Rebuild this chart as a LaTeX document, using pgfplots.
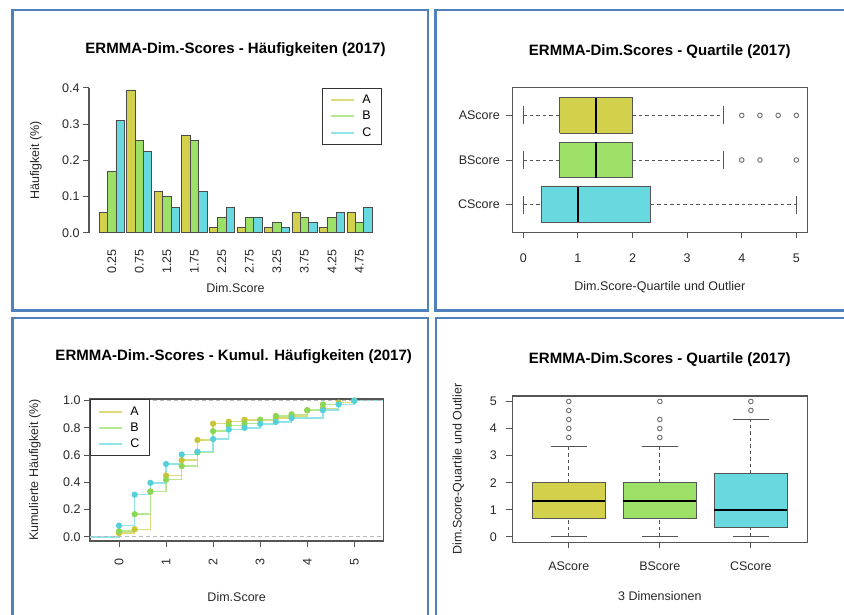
\documentclass[border=0pt]{standalone}
\usepackage{pgfplots}
\pgfplotsset{compat=1.18}
\usepackage{fontspec}
\setmainfont{Liberation Sans}
\definecolor{cA}{RGB}{211,208,76}
\definecolor{cB}{RGB}{156,224,104}
\definecolor{cC}{RGB}{104,218,223}
\definecolor{lA}{RGB}{222,218,120}
\definecolor{lB}{RGB}{180,232,145}
\definecolor{lC}{RGB}{145,228,232}
\definecolor{mA}{RGB}{200,196,55}
\definecolor{mB}{RGB}{140,214,85}
\definecolor{mC}{RGB}{85,208,218}
\definecolor{panelblue}{RGB}{79,129,189}
\definecolor{axgray}{RGB}{85,85,85}
\definecolor{txt}{RGB}{40,40,40}
\newcommand{\lf}{\fontsize{12.5}{14}\selectfont}
\newcommand{\tf}{\bfseries\fontsize{15}{18}\selectfont}
\pgfplotsset{
  common/.style={
    scale only axis,
    /pgf/number format/assume math mode=true,
    tick align=outside,
    major tick length=6pt,
    tick style={axgray, line width=0.9pt},
    axis line style={axgray, line width=1.2pt, -},
    tick label style={font=\lf, text=txt},
    label style={font=\lf, text=txt},
    every axis title shift=0pt,
    title style={font=\tf, text=black, anchor=center},
    clip=false,
    legend image code/.code={\draw[##1] (0pt,0pt) -- (23pt,0pt);},
    legend cell align=left,
  },
  leg/.style={draw=black!80, line width=1pt, fill=white,
    font=\lf, inner xsep=8pt, inner ysep=5pt, row sep=2pt,
    /tikz/every odd column/.append style={column sep=5pt}},
  whisk/.style={axgray, line width=0.9pt, dash pattern=on 3.5pt off 3pt},
  staple/.style={axgray, line width=1.1pt},
  med/.style={black, line width=2.4pt},
  outl/.style={only marks, mark=o, mark size=2.3pt, color=axgray!85, mark options={line width=0.9pt}},
}
\begin{document}
\begin{tikzpicture}
\clip (0pt,0pt) rectangle (844pt,614pt);
\fill[white] (0pt,0pt) rectangle (844pt,614pt);
\draw[panelblue, line width=2.2pt] (12.5pt,604pt) rectangle (428pt,303.5pt);
\draw[panelblue, line width=2.2pt] (435.5pt,604pt) rectangle (850pt,303.5pt);
\draw[panelblue, line width=2.2pt] (12.5pt,296pt) rectangle (428pt,-6pt);
\draw[panelblue, line width=2.2pt] (436pt,296pt) rectangle (850pt,-6pt);

% ---------------- Panel 1: grouped bars ----------------
\begin{axis}[common,
  at={(89pt,381.3pt)}, anchor=south west,
  width=293pt, height=145pt,
  xmin=-1.23, xmax=33.9, ymin=0, ymax=0.4,
  axis lines*=left,
  x axis line style={draw=none},
  xtick={1.5,4.8,8.1,11.4,14.7,18.0,21.3,24.6,27.9,31.2},
  xticklabels={0.25,0.75,1.25,1.75,2.25,2.75,3.25,3.75,4.25,4.75},
  xtick style={draw=none},
  xticklabel style={rotate=90, anchor=east, xshift=-7pt},
  ytick={0,0.1,0.2,0.3,0.4}, ytick pos=left,
  yticklabel style={/pgf/number format/.cd, fixed, fixed zerofill, precision=1},
  title={ERMMA-Dim.-Scores - Häufigkeiten (2017)},
  title style={at={(rel axis cs:0.5,1.26)}},
  xlabel={Dim.Score},
  xlabel style={at={(rel axis cs:0.5,-0.379)}, anchor=center},
  ylabel={Häufigkeit (\%)},
  ylabel style={at={(rel axis cs:-0.181,0.5)}, anchor=center},
  legend style={leg, at={(1,1)}, anchor=north east},
]
\addplot[forget plot, ybar, bar width=1, bar shift=0pt, fill=cA, draw=black!70, line width=0.7pt]
  coordinates {(0.5,0.056) (3.8,0.394) (7.1,0.113) (10.4,0.268) (13.7,0.014) (17.0,0.014) (20.3,0.014) (23.6,0.056) (26.9,0.014) (30.2,0.056)};
\addplot[forget plot, ybar, bar width=1, bar shift=0pt, fill=cB, draw=black!70, line width=0.7pt]
  coordinates {(1.5,0.169) (4.8,0.254) (8.1,0.099) (11.4,0.254) (14.7,0.042) (18.0,0.042) (21.3,0.028) (24.6,0.042) (27.9,0.042) (31.2,0.028)};
\addplot[forget plot, ybar, bar width=1, bar shift=0pt, fill=cC, draw=black!70, line width=0.7pt]
  coordinates {(2.5,0.310) (5.8,0.225) (9.1,0.070) (12.4,0.113) (15.7,0.070) (19.0,0.042) (22.3,0.014) (25.6,0.028) (28.9,0.056) (32.2,0.070)};
\addlegendimage{lA, line width=2pt}\addlegendentry{A}
\addlegendimage{lB, line width=2pt}\addlegendentry{B}
\addlegendimage{lC, line width=2pt}\addlegendentry{C}
\end{axis}

% ---------------- Panel 2: horizontal boxplots ----------------
\begin{axis}[common,
  at={(512.3pt,381.7pt)}, anchor=south west,
  width=295pt, height=144.6pt,
  xmin=-0.2, xmax=5.2, ymin=0.38, ymax=3.62,
  xtick={0,1,2,3,4,5}, ytick={1,2,3},
  yticklabels={CScore,BScore,AScore},
  xtick pos=left, ytick pos=left,
  xticklabel style={yshift=-12pt},
  yticklabel style={xshift=-3pt},
  title={ERMMA-Dim.Scores - Quartile (2017)},
  title style={at={(rel axis cs:0.5,1.249)}},
  xlabel={Dim.Score-Quartile und Outlier},
  xlabel style={at={(rel axis cs:0.5,-0.38)}, anchor=center},
]
% A (position 3)
\addplot[fill=cA, draw=axgray, line width=1.1pt] coordinates {(0.667,2.6) (2,2.6) (2,3.4) (0.667,3.4) (0.667,2.6)};
\addplot[whisk] coordinates {(0,3) (0.667,3)};
\addplot[whisk] coordinates {(2,3) (3.667,3)};
\addplot[staple] coordinates {(0,2.8) (0,3.2)};
\addplot[staple] coordinates {(3.667,2.8) (3.667,3.2)};
\addplot[med] coordinates {(1.333,2.6) (1.333,3.4)};
\addplot[outl] coordinates {(4,3) (4.333,3) (4.667,3) (5,3)};
% B (position 2)
\addplot[fill=cB, draw=axgray, line width=1.1pt] coordinates {(0.667,1.6) (2,1.6) (2,2.4) (0.667,2.4) (0.667,1.6)};
\addplot[whisk] coordinates {(0,2) (0.667,2)};
\addplot[whisk] coordinates {(2,2) (3.667,2)};
\addplot[staple] coordinates {(0,1.8) (0,2.2)};
\addplot[staple] coordinates {(3.667,1.8) (3.667,2.2)};
\addplot[med] coordinates {(1.333,1.6) (1.333,2.4)};
\addplot[outl] coordinates {(4,2) (4.333,2) (5,2)};
% C (position 1)
\addplot[fill=cC, draw=axgray, line width=1.1pt] coordinates {(0.333,0.6) (2.333,0.6) (2.333,1.4) (0.333,1.4) (0.333,0.6)};
\addplot[whisk] coordinates {(0,1) (0.333,1)};
\addplot[whisk] coordinates {(2.333,1) (5,1)};
\addplot[staple] coordinates {(0,0.8) (0,1.2)};
\addplot[staple] coordinates {(5,0.8) (5,1.2)};
\addplot[med] coordinates {(1,0.6) (1,1.4)};
\end{axis}

% ---------------- Panel 3: cumulative frequencies ----------------
\begin{axis}[common,
  at={(90pt,73pt)}, anchor=south west,
  width=293.3pt, height=142pt,
  xmin=-0.616, xmax=5.616, ymin=-0.03, ymax=1.012,
  xtick={0,1,2,3,4,5}, ytick={0,0.2,0.4,0.6,0.8,1},
  yticklabel style={/pgf/number format/.cd, fixed, fixed zerofill, precision=1},
  xticklabel style={rotate=90, anchor=east, xshift=-8pt},
  xtick pos=left, ytick pos=left,
  title={ERMMA-Dim.-Scores - Kumul. Häufigkeiten (2017)},
  title style={at={(rel axis cs:0.49,1.298)}},
  xlabel={Dim.Score},
  xlabel style={at={(rel axis cs:0.5,-0.396)}, anchor=center},
  ylabel={Kumulierte Häufigkeit (\%)},
  ylabel style={at={(rel axis cs:-0.1875,0.5)}, anchor=center},
  legend style={leg, at={(0,1)}, anchor=north west, inner ysep=5pt, row sep=2pt},
]
\addplot[forget plot, const plot, lA, line width=1.4pt, mark=*, mark indices={2,...,16}, mark size=2.4pt, mark options={fill=mA, draw=mA, solid}]
  coordinates {(-0.616,0) (0,0.028) (0.333,0.056) (0.667,0.333) (1,0.45) (1.333,0.563) (1.667,0.711) (2,0.831) (2.333,0.845) (2.667,0.859) (3.333,0.873) (3.667,0.887) (4,0.929) (4.333,0.943) (4.667,0.986) (5,1) (5.616,1)};
\addplot[forget plot, const plot, lB, line width=1.4pt, mark=*, mark indices={2,...,16}, mark size=2.4pt, mark options={fill=mB, draw=mB, solid}]
  coordinates {(-0.616,0) (0,0.042) (0.333,0.167) (0.667,0.333) (1,0.42) (1.333,0.52) (1.667,0.62) (2,0.776) (2.333,0.818) (2.667,0.832) (3,0.86) (3.333,0.888) (3.667,0.9) (4,0.93) (4.333,0.972) (5,1) (5.616,1)};
\addplot[forget plot, const plot, lC, line width=1.4pt, mark=*, mark indices={2,...,16}, mark size=2.4pt, mark options={fill=mC, draw=mC, solid}]
  coordinates {(-0.616,0) (0,0.083) (0.333,0.31) (0.667,0.397) (1,0.535) (1.333,0.605) (1.667,0.625) (2,0.718) (2.333,0.788) (2.667,0.80) (3,0.83) (3.333,0.844) (3.667,0.872) (4.333,0.93) (4.667,0.972) (5,1) (5.616,1)};
\addplot[forget plot, gray!55, line width=1pt, dash pattern=on 4pt off 3pt] coordinates {(-0.616,0) (5.616,0)};
\addplot[forget plot, gray!55, line width=1pt, dash pattern=on 4pt off 3pt] coordinates {(-0.616,1) (5.616,1)};
\addlegendimage{lA, line width=2pt}\addlegendentry{A}
\addlegendimage{lB, line width=2pt}\addlegendentry{B}
\addlegendimage{lC, line width=2pt}\addlegendentry{C}
\end{axis}

% ---------------- Panel 4: vertical boxplots ----------------
\begin{axis}[common,
  at={(512.3pt,71.7pt)}, anchor=south west,
  width=295pt, height=146.3pt,
  xmin=0.38, xmax=3.62, ymin=-0.2, ymax=5.2,
  xtick={1,2,3}, xticklabels={AScore,BScore,CScore},
  ytick={0,1,2,3,4,5},
  xtick pos=left, ytick pos=left,
  xticklabel style={yshift=-10pt},
  yticklabel style={xshift=-6pt},
  title={ERMMA-Dim.Scores - Quartile (2017)},
  title style={at={(rel axis cs:0.5,1.251)}},
  xlabel={3 Dimensionen},
  xlabel style={at={(rel axis cs:0.5,-0.367)}, anchor=center},
  ylabel={Dim.Score-Quartile und Outlier},
  ylabel style={at={(rel axis cs:-0.183,0.5)}, anchor=center},
]
% A
\addplot[fill=cA, draw=axgray, line width=1.1pt] coordinates {(0.6,0.667) (1.4,0.667) (1.4,2) (0.6,2) (0.6,0.667)};
\addplot[whisk] coordinates {(1,0) (1,0.667)};
\addplot[whisk] coordinates {(1,2) (1,3.333)};
\addplot[staple] coordinates {(0.8,0) (1.2,0)};
\addplot[staple] coordinates {(0.8,3.333) (1.2,3.333)};
\addplot[med] coordinates {(0.6,1.333) (1.4,1.333)};
\addplot[outl] coordinates {(1,3.667) (1,4) (1,4.333) (1,4.667) (1,5)};
% B
\addplot[fill=cB, draw=axgray, line width=1.1pt] coordinates {(1.6,0.667) (2.4,0.667) (2.4,2) (1.6,2) (1.6,0.667)};
\addplot[whisk] coordinates {(2,0) (2,0.667)};
\addplot[whisk] coordinates {(2,2) (2,3.333)};
\addplot[staple] coordinates {(1.8,0) (2.2,0)};
\addplot[staple] coordinates {(1.8,3.333) (2.2,3.333)};
\addplot[med] coordinates {(1.6,1.333) (2.4,1.333)};
\addplot[outl] coordinates {(2,3.667) (2,4) (2,4.333) (2,5)};
% C
\addplot[fill=cC, draw=axgray, line width=1.1pt] coordinates {(2.6,0.333) (3.4,0.333) (3.4,2.333) (2.6,2.333) (2.6,0.333)};
\addplot[whisk] coordinates {(3,0) (3,0.333)};
\addplot[whisk] coordinates {(3,2.333) (3,4.333)};
\addplot[staple] coordinates {(2.8,0) (3.2,0)};
\addplot[staple] coordinates {(2.8,4.333) (3.2,4.333)};
\addplot[med] coordinates {(2.6,1) (3.4,1)};
\addplot[outl] coordinates {(3,4.667) (3,5)};
\end{axis}
\end{tikzpicture}
\end{document}
